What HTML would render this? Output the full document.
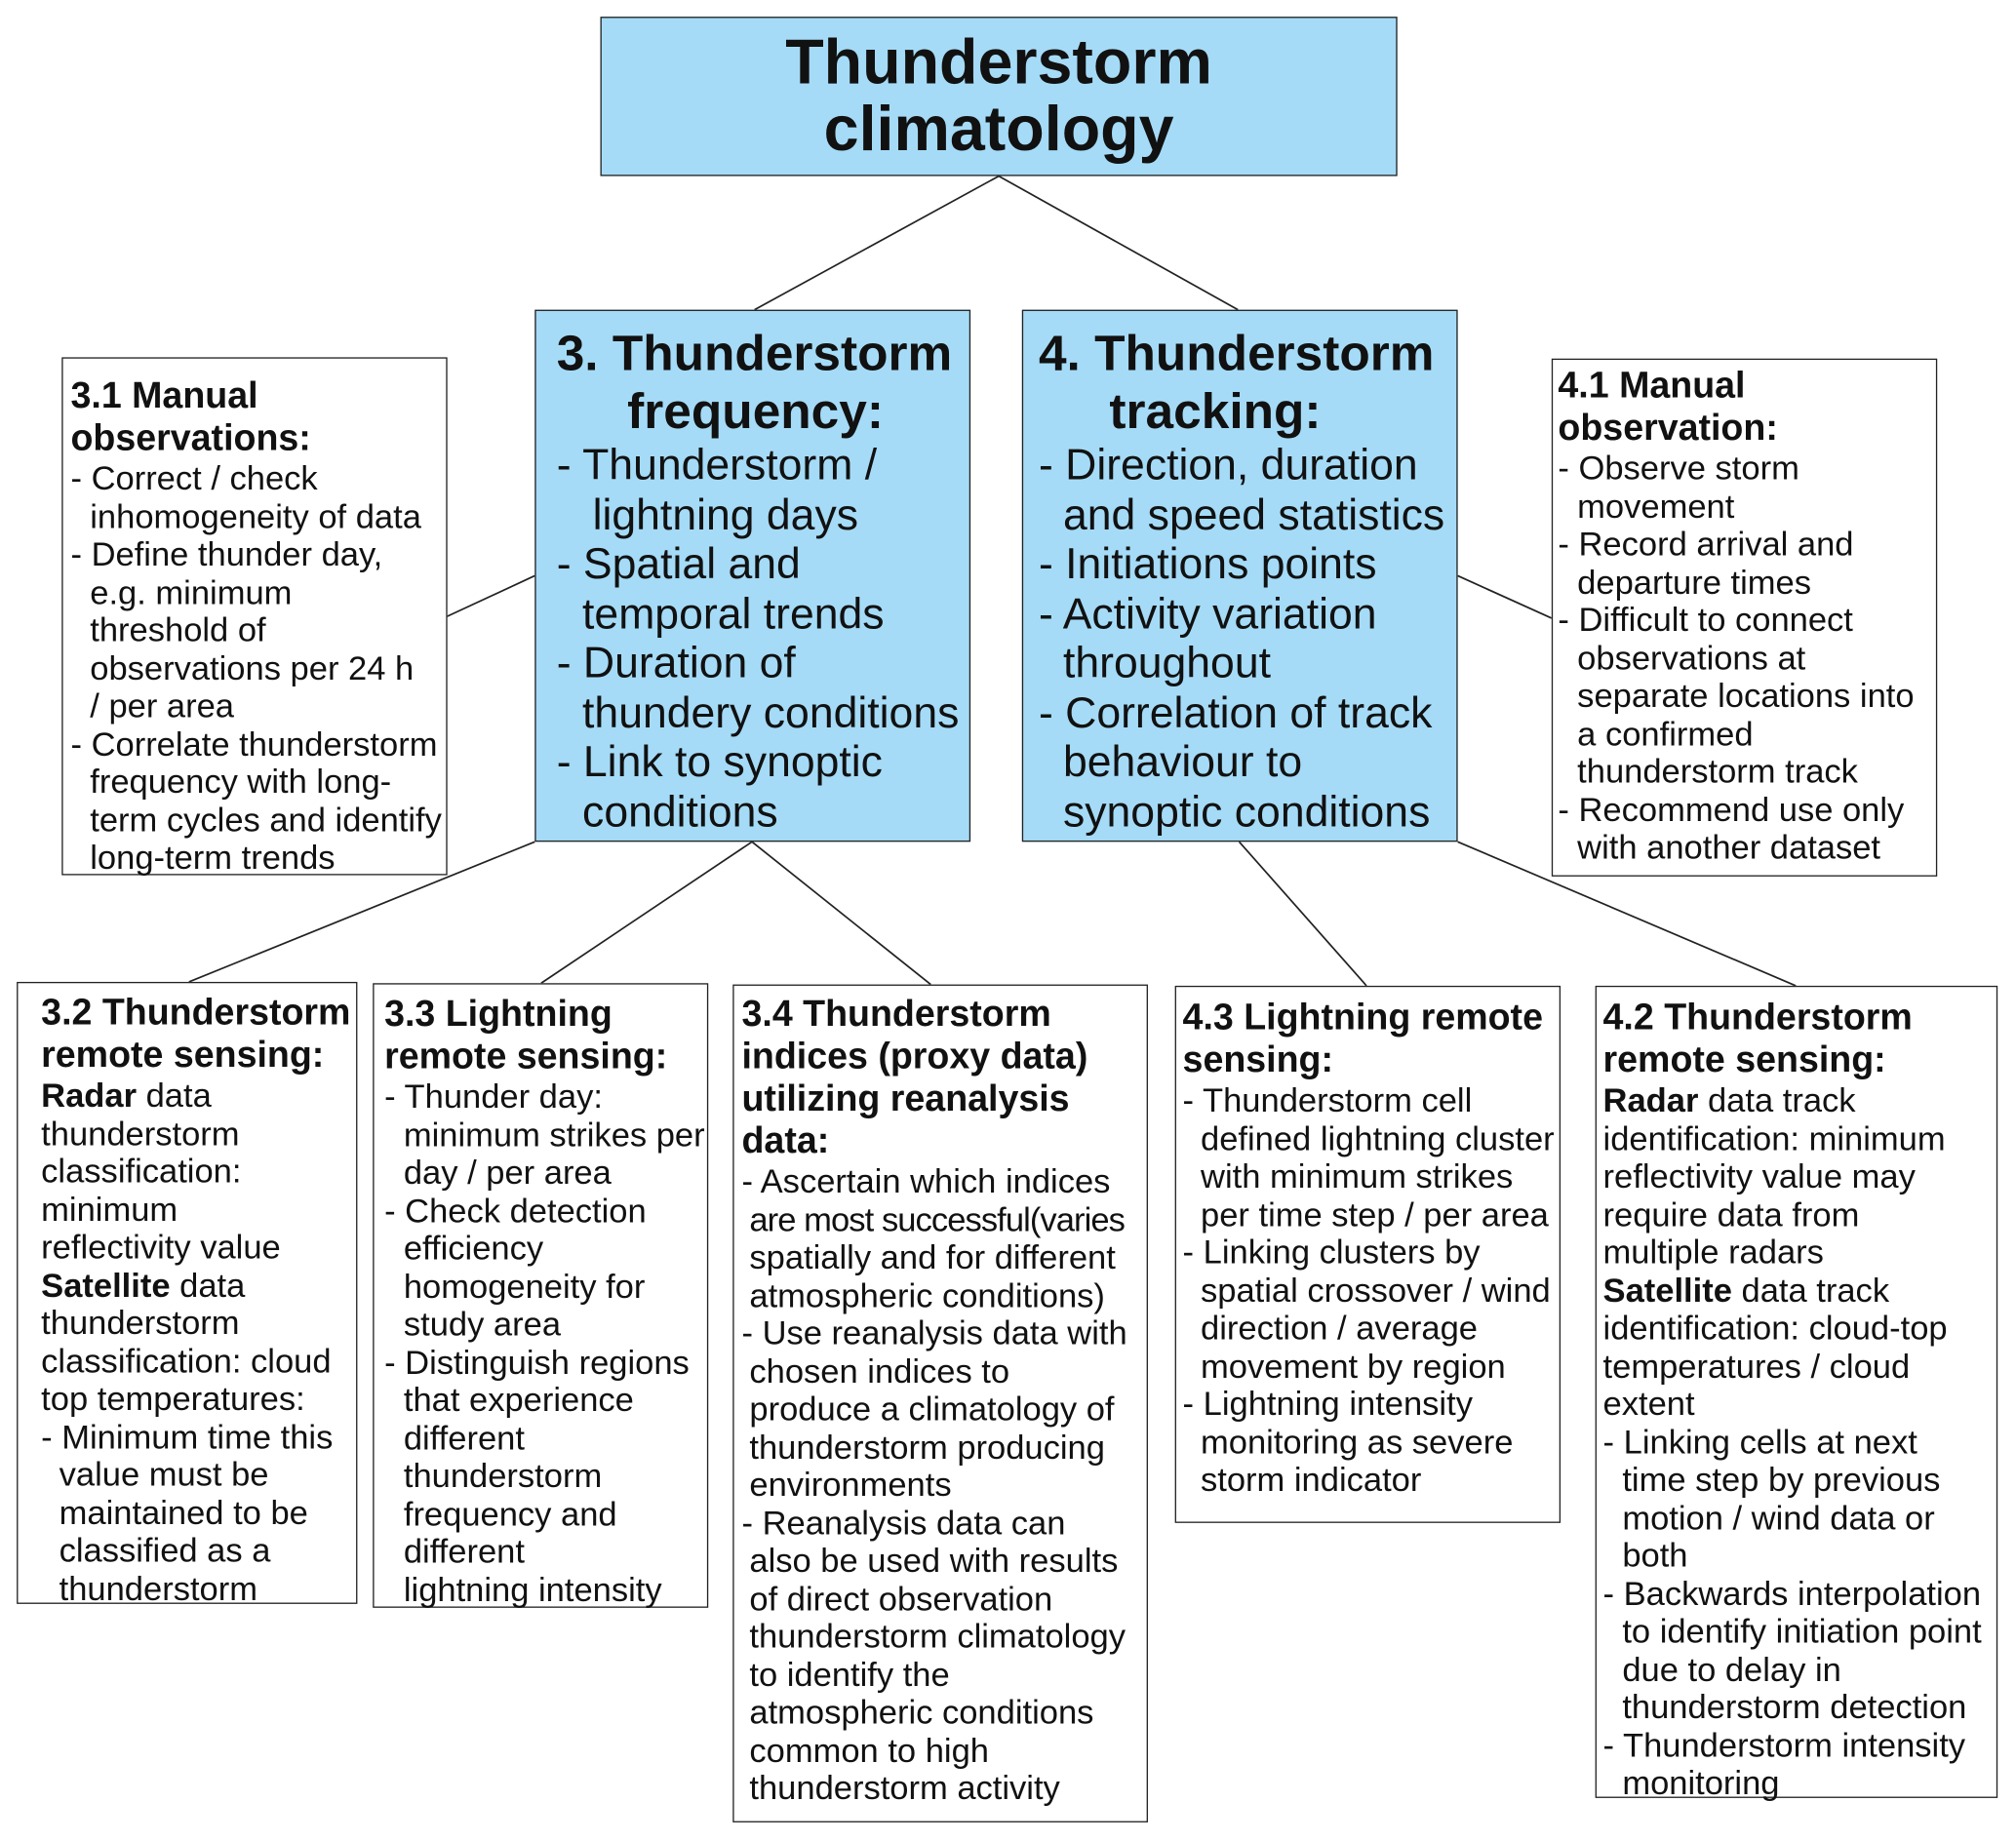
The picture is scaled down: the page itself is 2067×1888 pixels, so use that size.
<!DOCTYPE html>
<html><head><meta charset="utf-8"><style>
html,body{margin:0;padding:0;background:#fff;}
body{width:2067px;height:1888px;overflow:hidden;position:relative;}
#w{position:absolute;left:0;top:0;width:1560px;height:1425px;transform:scale(1.318);transform-origin:0 0;font-family:"Liberation Sans",Arial,sans-serif;color:#111;}
.box{position:absolute;border:1.3px solid #222;box-sizing:border-box;background:#fff;}
.blue{background:#a5dbf7;}
.t{position:absolute;white-space:nowrap;}
.s{font-size:26.2px;line-height:29.5px;}
.s .h{font-weight:bold;font-size:28.5px;line-height:33px;}
.m{font-size:33.8px;line-height:38.5px;}
.m .h{font-weight:bold;font-size:39px;line-height:45px;}
svg{position:absolute;left:0;top:0;}
</style></head><body><div id="w">
<svg width="1560" height="1425"><g stroke="#222" stroke-width="1.3" fill="none">
<line x1="777" y1="137" x2="587" y2="241"/><line x1="777" y1="137" x2="963" y2="241"/>
<line x1="347" y1="480" x2="416" y2="448"/><line x1="1134" y1="448" x2="1207" y2="481"/>
<line x1="416" y1="655" x2="147" y2="764"/><line x1="585" y1="655" x2="421" y2="765"/><line x1="585" y1="655" x2="724" y2="766"/>
<line x1="964" y1="655" x2="1063" y2="767"/><line x1="1134" y1="655" x2="1397" y2="767"/>
</g></svg>

<div class="box blue" style="left:467px;top:13px;width:620px;height:124px;"></div>
<div class="t" style="left:467px;top:23px;width:620px;text-align:center;font-weight:bold;font-size:49px;line-height:52px;">Thunderstorm<br>climatology</div>

<div class="box blue" style="left:416px;top:241px;width:339px;height:414px;"></div>
<div class="t m" style="left:433px;top:253px;">
<div class="h">3. Thunderstorm</div><div class="h" style="padding-left:55px">frequency:</div>
<div>- Thunderstorm /</div><div style="padding-left:28px">lightning days</div>
<div>- Spatial and</div><div style="padding-left:20px">temporal trends</div>
<div>- Duration of</div><div style="padding-left:20px">thundery conditions</div>
<div>- Link to synoptic</div><div style="padding-left:20px">conditions</div></div>

<div class="box blue" style="left:795px;top:241px;width:339px;height:414px;"></div>
<div class="t m" style="left:808px;top:253px;">
<div class="h">4. Thunderstorm</div><div class="h" style="padding-left:55px">tracking:</div>
<div>- Direction, duration</div><div style="padding-left:19px">and speed statistics</div>
<div>- Initiations points</div>
<div>- Activity variation</div><div style="padding-left:19px">throughout</div>
<div>- Correlation of track</div><div style="padding-left:19px">behaviour to</div><div style="padding-left:19px">synoptic conditions</div></div>

<div class="box" style="left:48px;top:278px;width:300px;height:403px;"></div>
<div class="t s" style="left:55px;top:292px;">
<div class="h">3.1 Manual</div><div class="h">observations:</div>
<div>- Correct / check</div><div style="padding-left:15px">inhomogeneity of data</div>
<div>- Define thunder day,</div><div style="padding-left:15px">e.g. minimum</div><div style="padding-left:15px">threshold of</div><div style="padding-left:15px">observations per 24 h</div><div style="padding-left:15px">/ per area</div>
<div>- Correlate thunderstorm</div><div style="padding-left:15px">frequency with long-</div><div style="padding-left:15px">term cycles and identify</div><div style="padding-left:15px">long-term trends</div></div>

<div class="box" style="left:1207px;top:279px;width:300px;height:403px;"></div>
<div class="t s" style="left:1212px;top:284px;">
<div class="h">4.1 Manual</div><div class="h">observation:</div>
<div>- Observe storm</div><div style="padding-left:15px">movement</div>
<div>- Record arrival and</div><div style="padding-left:15px">departure times</div>
<div>- Difficult to connect</div><div style="padding-left:15px">observations at</div><div style="padding-left:15px">separate locations into</div><div style="padding-left:15px">a confirmed</div><div style="padding-left:15px">thunderstorm track</div>
<div>- Recommend use only</div><div style="padding-left:15px">with another dataset</div></div>

<div class="box" style="left:13px;top:764px;width:265px;height:484px;"></div>
<div class="t s" style="left:32px;top:772px;">
<div class="h">3.2 Thunderstorm</div><div class="h">remote sensing:</div>
<div><b>Radar</b> data</div><div>thunderstorm</div><div>classification:</div><div>minimum</div><div>reflectivity value</div>
<div><b>Satellite</b> data</div><div>thunderstorm</div><div>classification: cloud</div><div>top temperatures:</div>
<div>- Minimum time this</div><div style="padding-left:14px">value must be</div><div style="padding-left:14px">maintained to be</div><div style="padding-left:14px">classified as a</div><div style="padding-left:14px">thunderstorm</div></div>

<div class="box" style="left:290px;top:765px;width:261px;height:486px;"></div>
<div class="t s" style="left:299px;top:773px;">
<div class="h">3.3 Lightning</div><div class="h">remote sensing:</div>
<div>- Thunder day:</div><div style="padding-left:15px">minimum strikes per</div><div style="padding-left:15px">day / per area</div>
<div>- Check detection</div><div style="padding-left:15px">efficiency</div><div style="padding-left:15px">homogeneity for</div><div style="padding-left:15px">study area</div>
<div>- Distinguish regions</div><div style="padding-left:15px">that experience</div><div style="padding-left:15px">different</div><div style="padding-left:15px">thunderstorm</div><div style="padding-left:15px">frequency and</div><div style="padding-left:15px">different</div><div style="padding-left:15px">lightning intensity</div></div>

<div class="box" style="left:570px;top:766px;width:323px;height:652px;"></div>
<div class="t s" style="left:577px;top:773px;">
<div class="h">3.4 Thunderstorm</div><div class="h">indices (proxy data)</div><div class="h">utilizing reanalysis</div><div class="h">data:</div>
<div>- Ascertain which indices</div><div style="padding-left:6px;letter-spacing:-0.7px">are most successful(varies</div><div style="padding-left:6px">spatially and for different</div><div style="padding-left:6px">atmospheric conditions)</div>
<div>- Use reanalysis data with</div><div style="padding-left:6px">chosen indices to</div><div style="padding-left:6px">produce a climatology of</div><div style="padding-left:6px">thunderstorm producing</div><div style="padding-left:6px">environments</div>
<div>- Reanalysis data can</div><div style="padding-left:6px">also be used with results</div><div style="padding-left:6px">of direct observation</div><div style="padding-left:6px">thunderstorm climatology</div><div style="padding-left:6px">to identify the</div><div style="padding-left:6px">atmospheric conditions</div><div style="padding-left:6px">common to high</div><div style="padding-left:6px">thunderstorm activity</div></div>

<div class="box" style="left:914px;top:767px;width:300px;height:418px;"></div>
<div class="t s" style="left:920px;top:776px;">
<div class="h">4.3 Lightning remote</div><div class="h">sensing:</div>
<div>- Thunderstorm cell</div><div style="padding-left:14px">defined lightning cluster</div><div style="padding-left:14px">with minimum strikes</div><div style="padding-left:14px">per time step / per area</div>
<div>- Linking clusters by</div><div style="padding-left:14px">spatial crossover / wind</div><div style="padding-left:14px">direction / average</div><div style="padding-left:14px">movement by region</div>
<div>- Lightning intensity</div><div style="padding-left:14px">monitoring as severe</div><div style="padding-left:14px">storm indicator</div></div>

<div class="box" style="left:1241px;top:767px;width:313px;height:632px;"></div>
<div class="t s" style="left:1247px;top:776px;">
<div class="h">4.2 Thunderstorm</div><div class="h">remote sensing:</div>
<div><b>Radar</b> data track</div><div>identification: minimum</div><div>reflectivity value may</div><div>require data from</div><div>multiple radars</div>
<div><b>Satellite</b> data track</div><div>identification: cloud-top</div><div>temperatures / cloud</div><div>extent</div>
<div>- Linking cells at next</div><div style="padding-left:15px">time step by previous</div><div style="padding-left:15px">motion / wind data or</div><div style="padding-left:15px">both</div>
<div>- Backwards interpolation</div><div style="padding-left:15px">to identify initiation point</div><div style="padding-left:15px">due to delay in</div><div style="padding-left:15px">thunderstorm detection</div>
<div>- Thunderstorm intensity</div><div style="padding-left:15px">monitoring</div></div>
</div></body></html>
